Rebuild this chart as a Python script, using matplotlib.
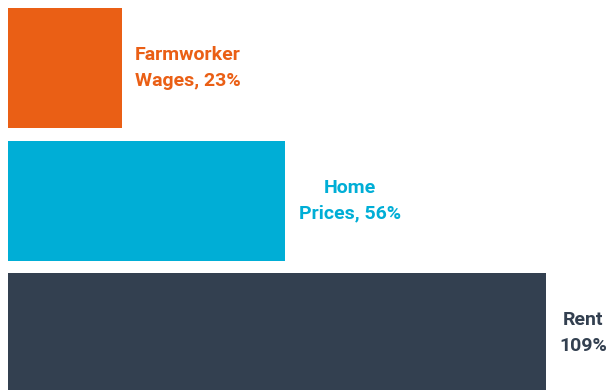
import matplotlib
matplotlib.use("Agg")
import matplotlib.pyplot as plt

categories = ["Farmworker\nWages, 23%", "Home\nPrices, 56%", "Rent\n109%"]
values = [23, 56, 109]
colors = ["#EA5F15", "#00AED6", "#334050"]
label_offsets = [66, 65, 37]  # px from bar end to label centre

fig = plt.figure(figsize=(6.11, 3.90), dpi=100)
ax = fig.add_axes([0, 0, 1, 1])

px_per_unit = 4.94
ax.set_xlim(-8 / px_per_unit, 603 / px_per_unit)
row_px = 132.7
ax.set_ylim(2.427, -68 / row_px)

pos = list(range(len(values)))
ax.barh(pos, values, height=120 / row_px, color=colors)

for y, v, lab, c, off in zip(pos, values, categories, colors, label_offsets):
    ax.annotate(lab, xy=(v, y), xytext=(off * 0.72, 0), textcoords="offset points",
                ha="center", va="center", fontsize=14, fontweight="bold",
                family="Roboto", color=c, linespacing=1.55)

ax.axis("off")
fig.savefig("out.png", dpi=100)
